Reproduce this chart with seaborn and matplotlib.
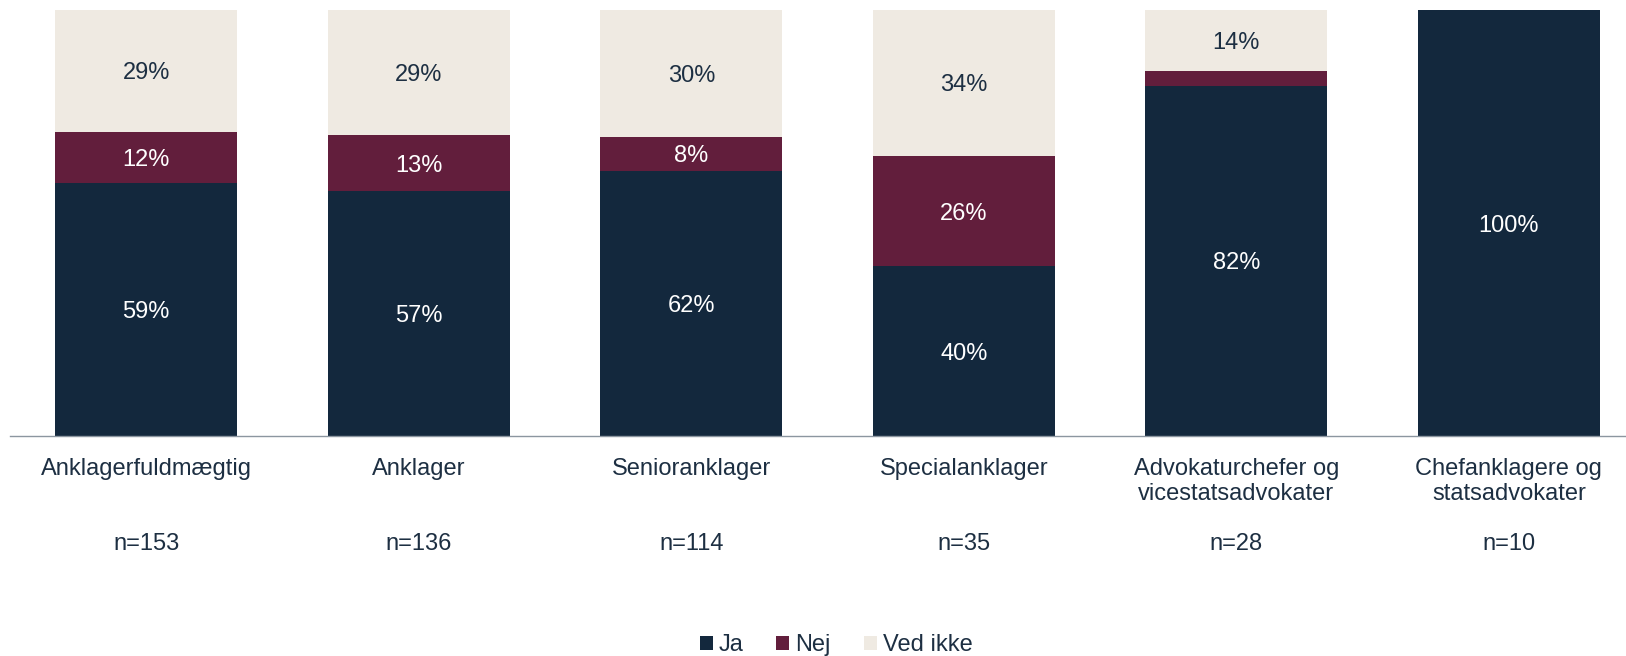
import matplotlib
matplotlib.use("Agg")
import matplotlib.pyplot as plt
import seaborn as sns
import pandas as pd
from matplotlib.patches import Patch
from matplotlib.transforms import blended_transform_factory

# Data
categories = ["Anklagerfuldmægtig", "Anklager", "Senioranklager", "Specialanklager",
              "Advokaturchefer og\nvicestatsadvokater", "Chefanklagere og\nstatsadvokater"]
n_labels = ["n=153", "n=136", "n=114", "n=35", "n=28", "n=10"]
ja = [59.4, 57.4, 62.2, 39.8, 82.2, 100.0]
nej = [12.0, 13.2, 8.0, 26.0, 3.5, 0.0]
ved_ikke = [28.6, 29.4, 29.8, 34.2, 14.3, 0.0]

series_names = ["Ja", "Nej", "Ved ikke"]
colors = ["#13283d", "#621e3c", "#efeae2"]
label_colors = ["white", "white", "#1d2f42"]
text_color = "#1d2f42"

sns.set_style("white")
plt.rcParams["font.family"] = ["Liberation Sans", "DejaVu Sans"]

df = pd.DataFrame({"kategori": categories, "Ja": ja, "Nej": nej, "Ved ikke": ved_ikke})

fig = plt.figure(figsize=(16.26, 6.56), dpi=100)
ax = fig.add_axes([10 / 1626, 1 - 436 / 656, 1 - 10 / 1626, 426 / 656])

bottom = [0.0] * len(categories)
for name, col, lcol in zip(series_names, colors, label_colors):
    sns.barplot(data=df, x="kategori", y=name, bottom=bottom, color=col,
                width=0.667, saturation=1, ax=ax, edgecolor="none")
    for i, (b, v) in enumerate(zip(bottom, df[name])):
        if v >= 5:
            ax.text(i, b + v / 2, f"{v:.0f}%", ha="center", va="center_baseline",
                    fontsize=17, color=lcol)
    bottom = [b + v for b, v in zip(bottom, df[name])]

ax.set_ylim(0, 100)
ax.set_xlim(-0.5, 5.43)
ax.set_xlabel("")
ax.set_ylabel("")
ax.set_yticks([])
sns.despine(ax=ax, left=True)
ax.spines["bottom"].set_color("#8c96a0")
ax.spines["bottom"].set_linewidth(1)
ax.tick_params(axis="x", length=0, pad=16, labelsize=17, labelcolor=text_color)
for lab in ax.get_xticklabels():
    lab.set_linespacing(1.15)
    lab.set_verticalalignment("top")

trans = blended_transform_factory(ax.transData, fig.transFigure)
for i, t in enumerate(n_labels):
    ax.text(i, 1 - 544 / 656, t, transform=trans, ha="center", va="center",
            fontsize=17, color=text_color)

handles = [Patch(facecolor=c, edgecolor="none", label=n) for n, c in zip(series_names, colors)]
fig.legend(handles=handles, loc="center", bbox_to_anchor=(836 / 1626, 1 - 645 / 656),
           ncol=3, frameon=False, fontsize=17, labelcolor=text_color,
           handlelength=0.55, handleheight=0.55, handletextpad=0.25, columnspacing=1.4)

fig.savefig("out.png", dpi=100)
